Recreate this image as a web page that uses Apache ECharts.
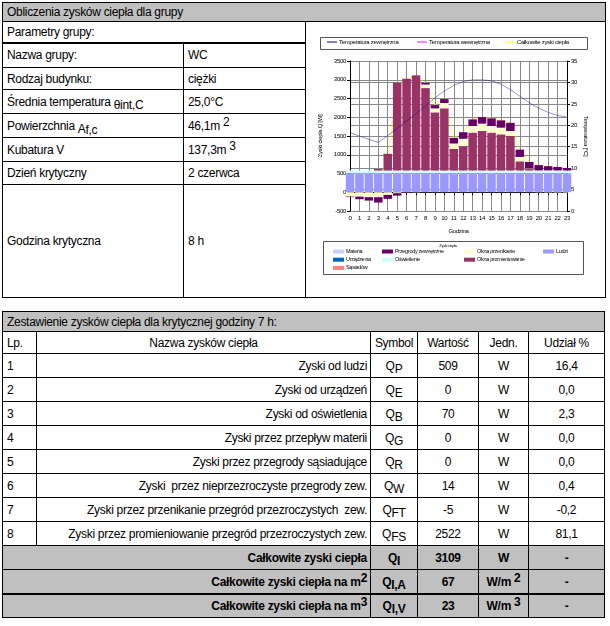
<!DOCTYPE html>
<html><head><meta charset="utf-8">
<script src="https://cdn.jsdelivr.net/npm/echarts@6/dist/echarts.min.js"></script>
<style>
html,body{margin:0;padding:0;background:#fff;width:610px;height:626px;overflow:hidden;}
body{font-family:"Liberation Sans",Arial,sans-serif;font-size:12px;color:#000;letter-spacing:-0.3px;}
#page{position:absolute;left:0;top:0;width:610px;height:626px;}
.c{position:absolute;box-sizing:border-box;border:1px solid #000;display:flex;align-items:center;padding:0 4px;white-space:pre;overflow:hidden;}
.r{justify-content:flex-end;padding-right:3px;}
.m{justify-content:center;}
.g{background:#c0c0c0;}
.b{font-weight:bold;}
.lo{position:relative;top:3px;}
.sb{position:relative;top:3px;}
.sp{position:relative;top:-4px;}
#chart{position:absolute;left:0;top:0;width:610px;height:626px;z-index:5;}
</style>
</head><body>
<div id="page"></div>
<div id="chart"></div>
<script>
// ---------- chart data ----------
const hours = ['0','1','2','3','4','5','6','7','8','9','10','11','12','13','14','15','16','17','18','19','20','21','22','23'];
const materia      = [0,0,0,0,0,0,0,0,0,0,0,0,0,0,0,0,0,0,0,0,0,0,0,0];
const urzadzenia   = [0,0,0,0,0,0,0,0,0,0,0,0,0,0,0,0,0,0,0,0,0,0,0,0];
const sasiadow     = [0,0,0,0,0,0,0,0,0,0,0,0,0,0,0,0,0,0,0,0,0,0,0,0];
const ludzi        = [509,509,509,509,509,509,509,509,509,509,509,509,509,509,509,509,509,509,509,509,509,509,509,509];
const oswietlenie  = [70,70,70,70,70,70,70,70,70,70,70,70,70,70,70,70,70,70,70,70,70,70,70,70];
const oknaProm     = [0,0,0,40,446,2342,2450,2522,2199,1552,1660,581,651,1012,1056,1012,966,921,246,40,15,10,8,5];
const oknaPrzen    = [-115,-117,-132,-132,-71,-26,-5,-5,95,105,140,140,196,175,195,175,177,132,117,15,-5,-8,-10,-12];
const przegrody    = [-15,-69,-90,-143,-106,-64,-13,14,45,88,106,150,175,177,175,204,195,220,195,175,130,106,88,62];
const calkowite    = [449,393,357,344,848,2831,3011,3109,2918,2324,2485,1450,1601,1943,2005,1970,1917,1852,1137,809,719,687,665,634];
const tempZew      = [18.3,17.5,16.7,16.0,17.6,19.3,21.0,22.7,24.5,26.4,28.0,29.3,30.2,30.6,30.6,30.4,29.6,28.3,26.8,25.3,24.0,23.0,22.3,21.9];
const tempWew      = [];
const leftTicks = {min:-500, max:3500, step:500};
const rightTicks = {min:0, max:35, step:5};

// ---------- tables ----------
const page = document.getElementById('page');
function cell(x1,y1,x2,y2,html,cls){
  const d=document.createElement('div');
  d.className='c '+(cls||'');
  d.style.left=x1+'px'; d.style.top=y1+'px';
  d.style.width=(x2-x1+1)+'px'; d.style.height=(y2-y1+1)+'px';
  d.innerHTML=html; page.appendChild(d);
}
function hline(x1,x2,y,w){
  const d=document.createElement('div');
  d.style.cssText='position:absolute;background:#000;left:'+x1+'px;top:'+y+'px;width:'+(x2-x1+1)+'px;height:'+w+'px;';
  page.appendChild(d);
}
// top block
cell(2,2,605,21,'Obliczenia zysków ciepła dla grupy','g');
cell(2,21,305,42,'Parametry grupy:');
hline(2,305,42,2);
cell(305,21,605,297,'');
const paramNames = ['Nazwa grupy:','Rodzaj budynku:','Średnia temperatura <span class="lo">θ<span style="font-size:12px">int,C</span></span>','Powierzchnia <span class="lo">A<span class="sb" style="top:1px">f,c</span></span>','Kubatura V','Dzień krytyczny','Godzina krytyczna'];
const paramVals = ['WC','ciężki','25,0°C','46,1m <span class="sp">2</span>','137,3m <span class="sp">3</span>','2 czerwca','8 h'];
const py = [42,67,89,113,137,161,184,297];
for(let i=0;i<7;i++){ cell(2,py[i],183,py[i+1],paramNames[i]); cell(183,py[i],305,py[i+1],paramVals[i]); }

// bottom block
cell(2,311,604,331,'Zestawienie zysków ciepła dla krytycznej godziny 7 h:','g');
const cx = [2,36,370,417,478,528,604];
const hdr = ['Lp.','Nazwa zysków ciepła','Symbol','Wartość','Jedn.','Udział %'];
const hcls = ['','m','m','m','m','m'];
for(let j=0;j<6;j++) cell(cx[j],331,cx[j+1],353,hdr[j],hcls[j]);
const rows = [
 ['1','Zyski od ludzi','Q<span class="sb">P</span>','509','W','16,4'],
 ['2','Zyski od urządzeń','Q<span class="sb">E</span>','0','W','0,0'],
 ['3','Zyski od oświetlenia','Q<span class="sb">B</span>','70','W','2,3'],
 ['4','Zyski przez przepływ materii','Q<span class="sb">G</span>','0','W','0,0'],
 ['5','Zyski przez przegrody sąsiadujące','Q<span class="sb">R</span>','0','W','0,0'],
 ['6','Zyski  przez nieprzezroczyste przegrody zew.','Q<span class="sb">W</span>','14','W','0,4'],
 ['7','Zyski przez przenikanie przegród przezroczystych  zew.','Q<span class="sb">FT</span>','-5','W','-0,2'],
 ['8','Zyski przez promieniowanie przegród przezroczystych zew.','Q<span class="sb">FS</span>','2522','W','81,1'],
 ['','Całkowite zyski ciepła','Q<span class="sb">I</span>','3109','W','-'],
 ['','Całkowite zyski ciepła na m<span class="sp">2</span>','Q<span class="sb">I,A</span>','67','W/m <span class="sp">2</span>','-'],
 ['','Całkowite zyski ciepła na m<span class="sp">3</span>','Q<span class="sb">I,V</span>','23','W/m <span class="sp">3</span>','-']
];
for(let i=0;i<rows.length;i++){
  const y1=353+24*i, y2=y1+24;
  const gray = i>=8;
  const ex = gray?' g b':'';
  if(gray){
    cell(cx[0],y1,cx[2],y2,rows[i][1],'r'+ex);
  } else {
    cell(cx[0],y1,cx[1],y2,rows[i][0],''+ex);
    cell(cx[1],y1,cx[2],y2,rows[i][1],'r'+ex);
  }
  for(let j=2;j<6;j++) cell(cx[j],y1,cx[j+1],y2,rows[i][j],'m'+ex);
}
hline(2,604,593,2);

// ---------- chart ----------
const chart = echarts.init(document.getElementById('chart'), null, {renderer:'canvas'});
const FF = '"Liberation Sans", Arial, sans-serif';
const C = {
  materia:'#CCCCFF', urz:'#0066CC', sas:'#FF8080', przeg:'#660066',
  osw:'#CCFFFF', przen:'#FFFFCC', prom:'#993366', ludzi:'#9999FF',
  tz:'#000080', tw:'#FF00FF', calk:'#FFFF00'
};
function bar(name,data,color){
  return {name, type:'bar', stack:'z', data, barWidth:8.5, yAxisIndex:0, z:2,
    itemStyle:{color}, emphasis:{disabled:true}};
}
const plain = v => String(v);
const lgBase = {orient:'vertical', padding:0, selectedMode:false, itemGap:1.2,
  itemWidth:11, itemHeight:4, icon:'rect',
  textStyle:{fontSize:5.5, color:'#000', fontFamily:FF, padding:[0,0,0,-3], lineHeight:7}};
const lgTop = {orient:'horizontal', padding:0, selectedMode:false, itemWidth:10, itemHeight:1, icon:'rect',
  textStyle:{fontSize:6, color:'#000', fontFamily:FF, padding:[0,0,0,-3]}};
const option = {
  backgroundColor:'transparent',
  animation:false,
  textStyle:{fontFamily:FF},
  grid:{left:350, right:43, top:61, bottom:415},
  xAxis:{type:'category', data:hours, boundaryGap:false,
    axisLine:{lineStyle:{color:'#000', width:1}},
    axisTick:{show:true, length:3, interval:0, lineStyle:{color:'#000'}},
    axisLabel:{fontSize:6, color:'#000', margin:4, interval:0},
    splitLine:{show:true, interval:0, lineStyle:{color:'#888', width:1}},
    name:'Godzina', nameLocation:'middle', nameGap:17, nameTextStyle:{fontSize:6, color:'#000'}},
  yAxis:[
    {type:'value', min:leftTicks.min, max:leftTicks.max, interval:leftTicks.step,
     axisLine:{show:true, lineStyle:{color:'#000'}}, axisTick:{show:true, length:3, lineStyle:{color:'#000'}},
     axisLabel:{fontSize:6, color:'#000', margin:4, formatter:plain},
     splitLine:{show:true, lineStyle:{color:'#888', width:1}},
     name:'Zyski ciepła Q [W]', nameLocation:'middle', nameGap:27, nameRotate:90,
     nameTextStyle:{fontSize:6, color:'#000'}},
    {type:'value', position:'right', min:rightTicks.min, max:rightTicks.max, interval:rightTicks.step,
     axisLine:{show:true, lineStyle:{color:'#000'}}, axisTick:{show:true, length:3, lineStyle:{color:'#000'}},
     axisLabel:{fontSize:6, color:'#000', margin:4, formatter:plain},
     splitLine:{show:true, lineStyle:{color:'#888', width:1}},
     name:'Temperatura [°C]', nameLocation:'middle', nameGap:16, nameRotate:-90,
     nameTextStyle:{fontSize:6, color:'#000'}}
  ],
  legend:[
    Object.assign({}, lgTop, {data:['Temperatura zewnętrzna'], left:327, top:39}),
    Object.assign({}, lgTop, {data:['Temperatura wewnętrzna'], left:417, top:39}),
    Object.assign({}, lgTop, {data:['Całkowite zyski ciepła'], left:505, top:39}),
    Object.assign({}, lgBase, {data:['Materia','Urządzenia','Sąsiadów'], left:333, top:248}),
    Object.assign({}, lgBase, {data:['Przegrody zewnętrzne','Oświetlenie'], left:382, top:248}),
    Object.assign({}, lgBase, {data:['Okna przenikanie','Okna promieniowanie'], left:464, top:248}),
    Object.assign({}, lgBase, {data:['Ludzi'], left:543, top:248})
  ],
  graphic:[
    {type:'rect', shape:{x:320.5, y:37.5, width:267, height:12}, style:{fill:'#fff', stroke:'#555', lineWidth:1}, z:-1},
    {type:'rect', shape:{x:323.5, y:241.5, width:260, height:33}, style:{fill:'#fff', stroke:'#555', lineWidth:1}, z:-1},
    {type:'text', x:448, y:244, style:{text:'Zyski ciepła', fontSize:4, fill:'#000', align:'center', fontFamily:FF}}
  ],
  series:[
    {name:'Całkowite zyski ciepła', type:'line', data:calkowite, yAxisIndex:0, showSymbol:false, z:1,
     lineStyle:{color:C.calk, width:1, opacity:0.6}, itemStyle:{color:C.calk}},
    bar('Materia', materia, C.materia),
    bar('Urządzenia', urzadzenia, C.urz),
    bar('Sąsiadów', sasiadow, C.sas),
    bar('Ludzi', ludzi, C.ludzi),
    bar('Oświetlenie', oswietlenie, C.osw),
    bar('Okna promieniowanie', oknaProm, C.prom),
    bar('Okna przenikanie', oknaPrzen, C.przen),
    bar('Przegrody zewnętrzne', przegrody, C.przeg),
    {name:'Temperatura zewnętrzna', type:'line', data:tempZew, yAxisIndex:1, showSymbol:false, z:4,
     lineStyle:{color:C.tz, width:0.7, opacity:0.6}, itemStyle:{color:C.tz}},
    {name:'Temperatura wewnętrzna', type:'line', data:tempWew, yAxisIndex:1, showSymbol:false, z:4,
     lineStyle:{color:C.tw, width:0.7}, itemStyle:{color:C.tw}}
  ]
};
chart.setOption(option);
</script>
</body></html>
